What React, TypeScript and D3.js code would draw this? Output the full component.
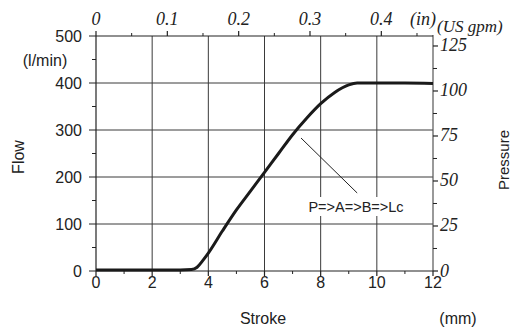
import React from "react";
import * as d3 from "d3";

const strokeMm = [0, 1, 2, 3, 3.4, 3.6, 3.8, 4, 4.5, 5, 5.5, 6, 6.5, 7, 7.5, 8, 8.5, 9, 9.3, 10, 11, 12];
const flowLpm = [2, 2, 2, 2, 3, 8, 22, 38, 85, 130, 170, 210, 250, 290, 325, 356, 380, 396, 400, 400, 400, 399];

const xTicksMajor = [0, 2, 4, 6, 8, 10, 12];
const xTicksMinor = [1, 3, 5, 7, 9, 11];
const yTicksMajor = [0, 100, 200, 300, 400, 500];
const yTicksMinor = [50, 150, 250, 350, 450];
const inTicksMajor = [0, 0.1, 0.2, 0.3, 0.4];
const inTickLabels = ["0", "0.1", "0.2", "0.3", "0.4"];
const inTicksMinor = [0.05, 0.15, 0.25, 0.35, 0.45];
const gpmTicksMajor = [0, 25, 50, 75, 100, 125];
const gpmTicksMinor = [12.5, 37.5, 62.5, 87.5, 112.5];
const gridX = [2, 4, 6, 8, 10];
const gridY = [100, 200, 300, 400];

const annotation = "P=>A=>B=>Lc";

export default function App() {
  const W = 511, H = 329;
  const x = d3.scaleLinear().domain([0, 12]).range([96, 433]);
  const y = d3.scaleLinear().domain([0, 500]).range([271, 36]);
  const xIn = d3.scaleLinear().domain([0, 12 / 25.4]).range([96, 433]);
  const yG = d3.scaleLinear().domain([0, 500 / 3.83]).range([271, 36]);

  const data = strokeMm.map((s, i) => [s, flowLpm[i]] as [number, number]);
  const line = d3
    .line<[number, number]>()
    .x((d) => x(d[0]))
    .y((d) => y(d[1]))
    .curve(d3.curveMonotoneX);

  const sans = "'Liberation Sans', Arial, sans-serif";
  const serif = "'Liberation Serif', 'Times New Roman', serif";
  const axisCol = "#222";
  const gridCol = "#3a3a3a";

  return (
    <svg
      width={W}
      height={H}
      style={{ position: "absolute", left: 0, top: 0, background: "#fff" }}
    >
      {/* grid */}
      {gridX.map((v) => (
        <line key={"gx" + v} x1={x(v)} x2={x(v)} y1={y(0)} y2={y(500)} stroke={gridCol} strokeWidth={1} />
      ))}
      {gridY.map((v) => (
        <line key={"gy" + v} x1={x(0)} x2={x(12)} y1={y(v)} y2={y(v)} stroke={gridCol} strokeWidth={1} />
      ))}

      {/* frame */}
      <line x1={x(0)} x2={x(0)} y1={y(0)} y2={y(500)} stroke={axisCol} strokeWidth={1.2} />
      <line x1={x(12)} x2={x(12)} y1={y(0)} y2={y(500) - 1} stroke="#555" strokeWidth={1.2} />
      <line x1={x(0)} x2={x(12)} y1={y(0)} y2={y(0)} stroke={axisCol} strokeWidth={1.2} />
      <line x1={x(0)} x2={x(12)} y1={y(500)} y2={y(500)} stroke={axisCol} strokeWidth={1.2} />

      {/* left axis */}
      {yTicksMajor.map((v) => (
        <g key={"yl" + v}>
          <line x1={x(0) - 7} x2={x(0)} y1={y(v)} y2={y(v)} stroke={axisCol} />
          <text x={82} y={y(v) + 6} textAnchor="end" fontFamily={sans} fontSize={16} fill="#222">
            {v}
          </text>
        </g>
      ))}
      {yTicksMinor.map((v) => (
        <line key={"ym" + v} x1={x(0) - 4} x2={x(0)} y1={y(v)} y2={y(v)} stroke={axisCol} />
      ))}
      <text x={45} y={66} textAnchor="middle" fontFamily={sans} fontSize={16} fill="#222">
        (l/min)
      </text>
      <text
        transform={`translate(24,157) rotate(-90)`}
        textAnchor="middle"
        fontFamily={sans}
        fontSize={16}
        fill="#222"
      >
        Flow
      </text>

      {/* bottom axis */}
      {xTicksMajor.map((v) => (
        <g key={"xb" + v}>
          <line x1={x(v)} x2={x(v)} y1={y(0)} y2={y(0) + 5} stroke={axisCol} strokeWidth={1.2} />
          <text x={x(v)} y={288} textAnchor="middle" fontFamily={sans} fontSize={16} fill="#222">
            {v}
          </text>
        </g>
      ))}
      {xTicksMinor.map((v) => (
        <line key={"xm" + v} x1={x(v)} x2={x(v)} y1={y(0)} y2={y(0) + 3} stroke={axisCol} />
      ))}
      <text x={263} y={324} textAnchor="middle" fontFamily={sans} fontSize={16} fill="#222">
        Stroke
      </text>
      <text x={458} y={324} textAnchor="middle" fontFamily={sans} fontSize={16} fill="#222">
        (mm)
      </text>

      {/* top axis (inches) */}
      {inTicksMajor.map((v, i) => (
        <g key={"xt" + v}>
          <line x1={xIn(v)} x2={xIn(v)} y1={y(500)} y2={y(500) - 5} stroke={axisCol} strokeWidth={1.2} />
          <text x={xIn(v)} y={25} textAnchor="middle" fontFamily={serif} fontStyle="italic" fontSize={18} fill="#222">
            {inTickLabels[i]}
          </text>
        </g>
      ))}
      {inTicksMinor.map((v) => (
        <line key={"xtm" + v} x1={xIn(v)} x2={xIn(v)} y1={y(500)} y2={y(500) - 3} stroke={axisCol} />
      ))}
      <text x={423} y={25} textAnchor="middle" fontFamily={serif} fontStyle="italic" fontSize={18} fill="#222">
        (in)
      </text>

      {/* right axis (US gpm) */}
      {gpmTicksMajor.map((v) => (
        <g key={"yr" + v}>
          <line x1={x(12)} x2={x(12) + 5} y1={yG(v)} y2={yG(v)} stroke={axisCol} strokeWidth={1.2} />
          <text x={440} y={yG(v) + 5.5} textAnchor="start" fontFamily={serif} fontStyle="italic" fontSize={18} fill="#222">
            {v}
          </text>
        </g>
      ))}
      {gpmTicksMinor.map((v) => (
        <line key={"yrm" + v} x1={x(12)} x2={x(12) + 4} y1={yG(v)} y2={yG(v)} stroke={axisCol} />
      ))}
      <text x={437} y={32} textAnchor="start" fontFamily={serif} fontStyle="italic" fontSize={17} fill="#222">
        (US gpm)
      </text>
      <text
        transform={`translate(509,160) rotate(-90)`}
        textAnchor="middle"
        fontFamily={sans}
        fontSize={15}
        fill="#222"
      >
        Pressure
      </text>

      {/* curve */}
      <path d={line(data) || ""} fill="none" stroke="#1a1a1a" strokeWidth={3} strokeLinejoin="round" />

      {/* annotation */}
      <line x1={x(7.3)} x2={x(9.3)} y1={y(283)} y2={y(166)} stroke="#222" strokeWidth={1} />
      <rect x={300} y={197} width={112} height={19} fill="#fff" />
      <text x={356} y={212} textAnchor="middle" fontFamily={sans} fontSize={14.5} fill="#222">
        {annotation}
      </text>
    </svg>
  );
}
